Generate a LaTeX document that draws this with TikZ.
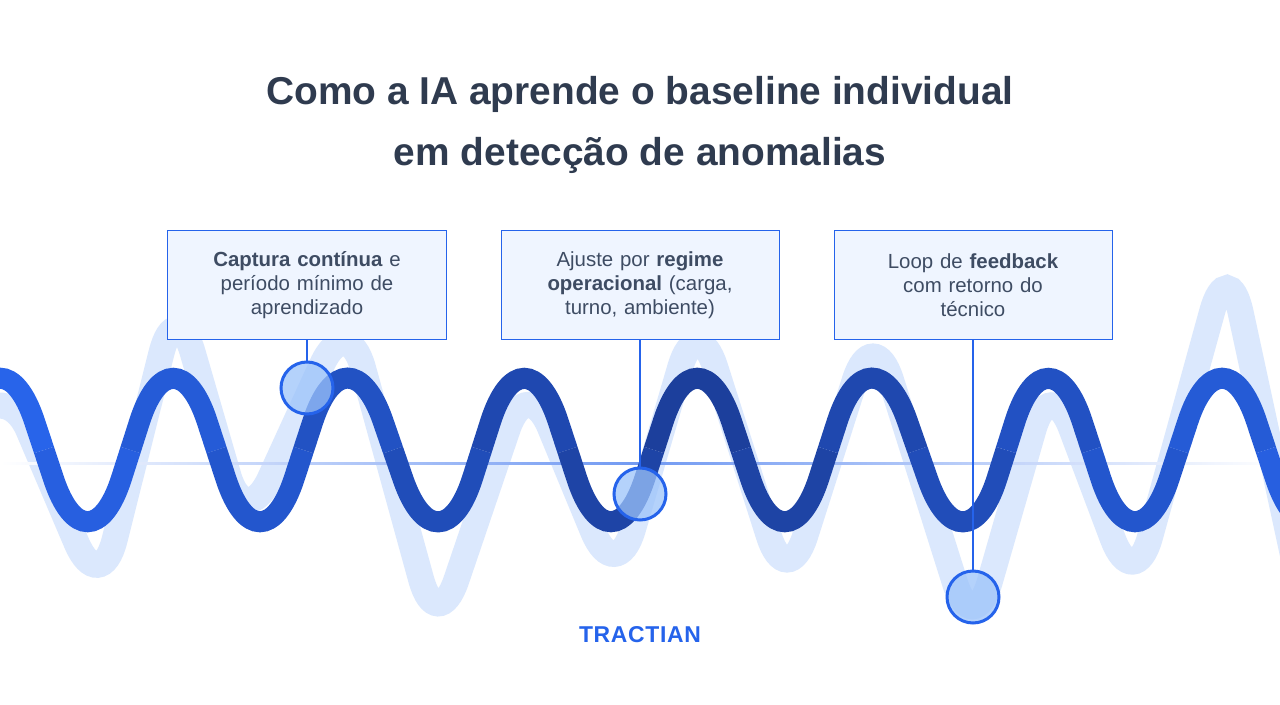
\documentclass[tikz,border=0pt]{standalone}
\usepackage{fontspec}
\setmainfont{Liberation Sans}
\usetikzlibrary{positioning}
\definecolor{titlecol}{HTML}{2F3B4F}
\definecolor{textcol}{HTML}{3E4C63}
\definecolor{wlight}{HTML}{2864EA}
\definecolor{wdark}{HTML}{1C3F9C}
\definecolor{pale}{HTML}{DBE8FD}
\definecolor{boxfill}{HTML}{EFF5FF}
\definecolor{edge}{HTML}{2563EB}
\definecolor{dotfill}{HTML}{9CC3FA}
\begin{document}
\begin{tikzpicture}[x=1bp,y=-1bp,
    note/.style={draw=edge,line width=1bp,fill=boxfill,minimum width=278bp,minimum height=108bp,
      text width=262bp,align=center,text=textcol,font=\fontsize{20.5}{24}\selectfont},
    dot/.style={circle,draw=edge,line width=3bp,fill=dotfill,fill opacity=0.75,minimum size=52bp,inner sep=0pt},
    pin/.style={edge,line width=1.5bp}]
    \useasboundingbox[fill=white] (0,0) rectangle (1280,705);
    % title
    \node[text=titlecol,font=\fontsize{39}{62}\selectfont\bfseries,align=center] (title) at (640,125)
      {Como a IA aprende o baseline individual\\em detecção de anomalias};
    % background wave
    \draw[pale,line width=26bp,rounded corners=60bp,line cap=round]
      (-60,470) -- (5,375) -- (100,598) -- (176,295) -- (245,533) -- (347,310) -- (437,637)
      -- (527,372) -- (616,587) -- (697,310) -- (787,593) -- (873,323) -- (973,640)
      -- (1050,372) -- (1134,595) -- (1228,254) -- (1320,680);
    % baseline
    \shade[left color=white,right color=white,middle color=edge!65] (0,462) rectangle (1280,464);
    % main wave
    \foreach \xa/\x/\xb/\y in {-87/0/88/317, 0/88/173/583, 88/173/260/317, 173/260/347/583,
        260/347/439/317, 347/439/524/583, 439/524/611/317, 524/611/697/583, 611/697/785/317,
        697/785/871/583, 785/871/964/317, 871/964/1048/583, 964/1048/1135/317,
        1048/1135/1222/583, 1135/1222/1310/317, 1222/1310/1397/583} {
      \pgfmathsetmacro\t{max(0,100-abs(\x-700)/7)}
      \colorlet{wc}{wdark!\t!wlight}
      \draw[wc,line width=21bp,rounded corners=110bp]
        ({(\xa+\x)/2},450) -- (\x,\y) -- ({(\x+\xb)/2},450);
    }
    % notes
    \node[note] (capture) at (307,285) {\textbf{Captura contínua} e\\período mínimo de\\aprendizado};
    \node[note] (regime) at (640,285) {Ajuste por \textbf{regime}\\\textbf{operacional} (carga,\\turno, ambiente)};
    \node[note] (loop) at (973,285) {Loop de \textbf{feedback}\\com retorno do\\técnico};
    \node[dot] (d1) at (307,388) {};
    \node[dot] (d2) at (640,494) {};
    \node[dot] (d3) at (973,597) {};
    \draw[pin] (capture) -- (d1);
    \draw[pin] (regime) -- (d2);
    \draw[pin] (loop) -- (d3);
    % logo
    \node[text=edge,font=\fontsize{23}{26}\selectfont\bfseries\addfontfeature{LetterSpace=3}] (logo) at (640,635) {TRACTIAN};
\end{tikzpicture}
\end{document}
